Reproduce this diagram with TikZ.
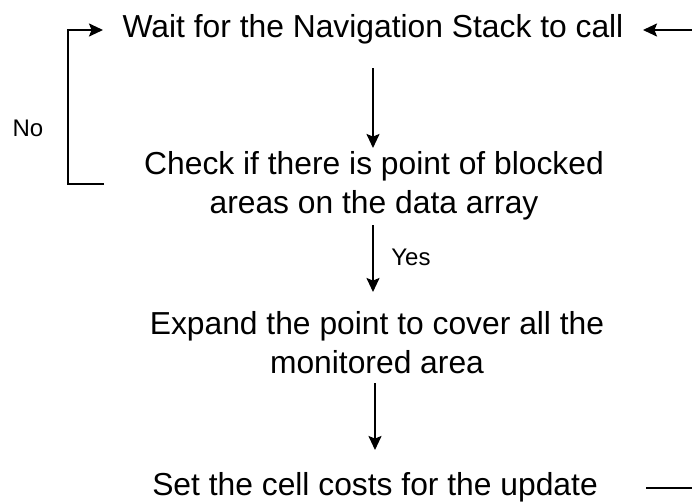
\documentclass[tikz,border=0pt]{standalone}
\usepackage{fontspec}
\setmainfont{Liberation Sans}
\usetikzlibrary{arrows.meta}
\begin{document}
\begin{tikzpicture}[x=0.5pt,y=-0.5pt,
  stepbox/.style={inner sep=0pt,align=center,anchor=base,
    font=\fontsize{15.9}{19.4}\selectfont},
  branch/.style={inner sep=0pt,anchor=base,font=\fontsize{12}{14}\selectfont},
  flow/.style={line width=1pt,-{Stealth[length=7pt,width=6.5pt,inset=1.3pt]}},
  plain/.style={line width=1pt}]
\useasboundingbox (0,0) rectangle (692,504);

% process steps (base anchor sits on the last line of each box)
\node[stepbox] (wait)   at (373,37)  {Wait for the Navigation Stack to call};
\node[stepbox] (check)  at (374,213) {Check if there is point of blocked\\areas on the data array};
\node[stepbox] (expand) at (377,373) {Expand the point to cover all the\\monitored area};
\node[stepbox] (set)    at (375,495) {Set the cell costs for the update};

% branch labels
\node[branch] (yes) at (411,265) {Yes};
\node[branch] (no)  at (28,136)  {No};

% main sequence
\draw[flow] (373,68)  coordinate (a1s) -- (373,148) coordinate (a1e);
\draw[flow] (373,225) coordinate (a2s) -- (373,292) coordinate (a2e);
\draw[flow] (375,383) coordinate (a3s) -- (375,450) coordinate (a3e);

% "No" loop back to waiting
\coordinate (noFrom) at (104,184);
\coordinate (noSide) at (68,184);
\coordinate (noTo)   at (103,30);
\draw[flow] (noFrom) -- (noSide) |- (noTo);

% return from the update back to waiting
\coordinate (retIn)  at (692,30);
\coordinate (retTip) at (643,30);
\draw[flow] (retIn) -- (retTip);
\coordinate (outFrom) at (646,488);
\coordinate (outTo)   at (692,488);
\draw[plain] (outFrom) -- (outTo);
\end{tikzpicture}
\end{document}
